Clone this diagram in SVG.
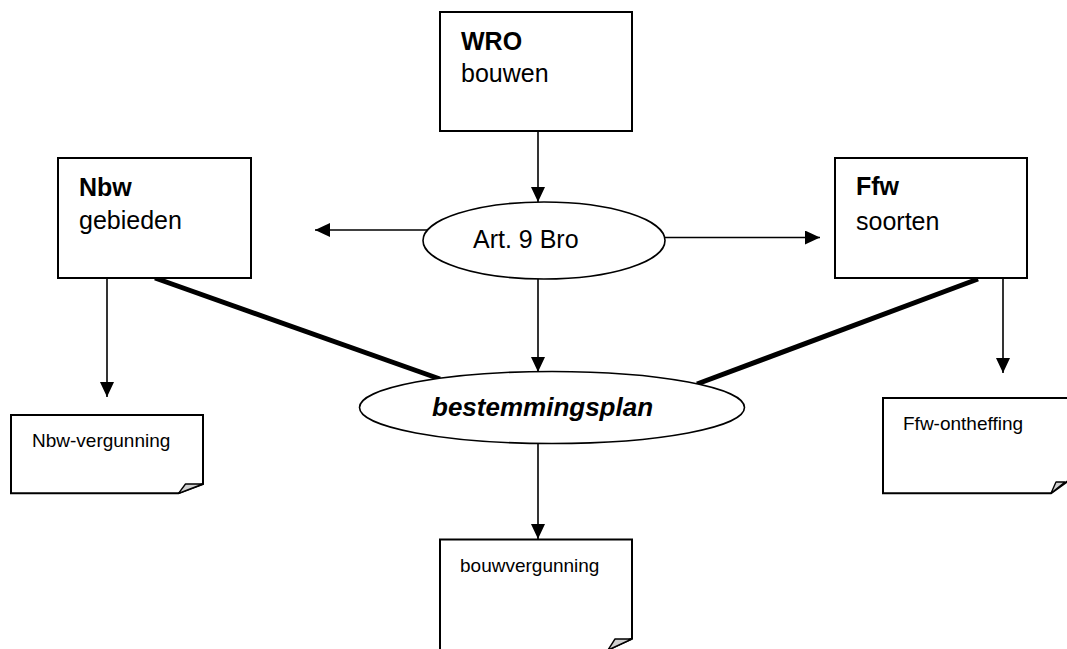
<svg xmlns="http://www.w3.org/2000/svg" width="1067" height="649" viewBox="0 0 1067 649">
<style>
.box{fill:#fff;stroke:#000;stroke-width:2}
.ell{fill:#fff;stroke:#000;stroke-width:1.6}
.flap{fill:#d0d0d0;stroke:#000;stroke-width:1.4;stroke-linejoin:round}
.arr{stroke:#000;stroke-width:1.6;fill:none}
.thick{stroke:#000;stroke-width:5;fill:none}
text{font-family:"Liberation Sans",Arial,sans-serif;fill:#000}
.big{font-size:25px}
.b{font-weight:bold}
.sm{font-size:19px}
.bi{font-size:26px;font-weight:bold;font-style:italic}
</style>
<defs>
<marker id="ah" markerUnits="userSpaceOnUse" markerWidth="16" markerHeight="14" refX="15" refY="7" orient="auto">
<path d="M0,0 L15,7 L0,14 Z" fill="#000"/>
</marker>
</defs>
<rect width="1067" height="649" fill="#fff"/>
<g id="connectors">
<line class="thick" x1="155" y1="278" x2="440" y2="379"/>
<line class="thick" x1="978" y1="279" x2="697" y2="384"/>
<line class="arr" x1="538" y1="131" x2="538" y2="202" marker-end="url(#ah)"/>
<line class="arr" x1="428" y1="230" x2="315" y2="230" marker-end="url(#ah)"/>
<line class="arr" x1="664" y1="237.5" x2="820" y2="237.5" marker-end="url(#ah)"/>
<line class="arr" x1="538" y1="279" x2="538" y2="372" marker-end="url(#ah)"/>
<line class="arr" x1="538" y1="443" x2="538" y2="539" marker-end="url(#ah)"/>
<line class="arr" x1="107" y1="278" x2="107" y2="397" marker-end="url(#ah)"/>
<line class="arr" x1="1003" y1="278" x2="1003" y2="373" marker-end="url(#ah)"/>
</g>
<g id="wro">
<rect class="box" x="440" y="12" width="192" height="119"/>
<text class="big b" x="461" y="50">WRO</text>
<text class="big" x="461" y="82">bouwen</text>
</g>
<g id="nbw">
<rect class="box" x="58" y="158" width="193" height="120"/>
<text class="big b" x="79" y="196">Nbw</text>
<text class="big" x="79" y="229">gebieden</text>
</g>
<g id="ffw">
<rect class="box" x="835" y="158" width="192" height="120"/>
<text class="big b" x="856" y="195">Ffw</text>
<text class="big" x="856" y="230">soorten</text>
</g>
<g id="art9">
<ellipse class="ell" cx="544" cy="240.5" rx="121" ry="38.5"/>
<text class="big" x="473" y="248">Art. 9 Bro</text>
</g>
<g id="bestemmingsplan">
<ellipse class="ell" cx="552" cy="407.5" rx="192.5" ry="36"/>
<text class="bi" x="432" y="416">bestemmingsplan</text>
</g>
<g id="nbw-vergunning">
<path class="box" d="M11,415 H203 V484 L178.5,493.3 H11 Z"/>
<path class="flap" d="M178.5,493.3 L185.5,484 H203 Z"/>
<text class="sm" x="32" y="447">Nbw-vergunning</text>
</g>
<g id="ffw-ontheffing">
<path class="box" d="M883,398 H1068 V481 L1051,493.3 H883 Z"/>
<path class="flap" d="M1051,493.3 L1056,482 H1065 Z"/>
<text class="sm" x="903" y="430">Ffw-ontheffing</text>
</g>
<g id="bouwvergunning">
<path class="box" d="M440,539.5 H632 V638.5 L608,650 H440 Z"/>
<path class="flap" d="M608,650 L615,639 H632 Z"/>
<text class="sm" x="460" y="572">bouwvergunning</text>
</g>
</svg>
